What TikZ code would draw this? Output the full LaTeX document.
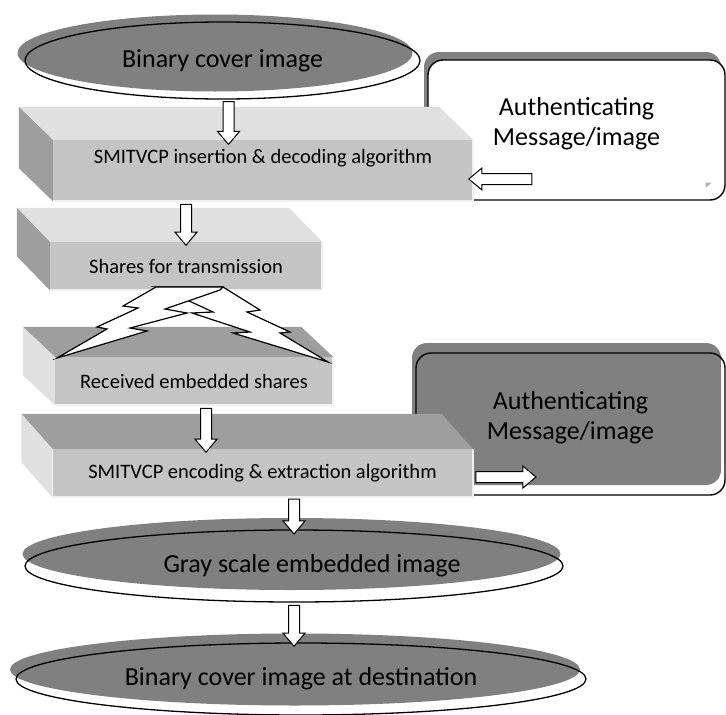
\documentclass[tikz,border=0pt]{standalone}
\usepackage{fontspec}
\setmainfont{Carlito}
\usepackage{tikz}
\usetikzlibrary{arrows.meta, positioning}
\usetikzlibrary{shapes,arrows,shadows}

\definecolor{hatchgray}{RGB}{128,128,128}
\definecolor{frontgray}{RGB}{196,196,196}
\definecolor{lightface}{RGB}{224,224,224}
\definecolor{darkface}{RGB}{158,158,158}

\tikzset{
  oval/.style={draw, ellipse, line width=1.3pt, inner sep=0pt, font=\fontsize{26}{30}\selectfont},
  slab/.style={rectangle, fill=frontgray, inner sep=0pt, font=\fontsize{20.5}{24}\selectfont},
  msgbox/.style={draw, rectangle, rounded corners=15pt, line width=1.4pt, align=center,
    font=\fontsize{26}{30}\selectfont, text height=37pt, text depth=6pt},
  blockarrow/.style={single arrow, draw, fill=white, line width=1pt, inner xsep=0pt, inner ysep=5pt,
    minimum width=21pt, single arrow head extend=5.5pt, single arrow tip angle=80,
    sloped, allow upside down},
  bevel/.style={draw=white!88!gray, line width=2pt},
  bolt/.style={fill=white, draw, line width=1.2pt},
}

\begin{document}
\begin{tikzpicture}[x=1pt, y=-1pt]
  \useasboundingbox (0,0) rectangle (726,715);

  \node[oval, minimum width=395pt, minimum height=77pt,
    drop shadow={shadow xshift=-7.5pt, shadow yshift=7.5pt, fill=hatchgray, opacity=1}]
    (bin) at (222.5,60.5) {Binary cover image};

  \node[msgbox, fill=white, minimum width=297pt, minimum height=140pt,
    drop shadow={shadow xshift=-4pt, shadow yshift=8pt, fill=hatchgray, opacity=1}]
    (auth1) at (576.5,130) {Authenticating\\Message/image};
  \fill[gray!60] ([shift={(-20,-18)}]auth1.south east) -- ++(6,0) -- ++(-6,5) -- cycle;

  \node[msgbox, minimum width=309pt, minimum height=142pt,
    drop shadow={shadow xshift=-4pt, shadow yshift=10pt, fill=hatchgray, opacity=1}]
    (auth2) at (570.5,424) {Authenticating\\Message/image};

  \node[slab, minimum width=420pt, minimum height=61pt, text height=5pt, text depth=20pt]
    (ins) at (263,170.5) {SMITVCP insertion \& decoding algorithm};
  \node[slab, minimum width=272pt, minimum height=48pt] (shr) at (186,266) {Shares for transmission};
  \node[slab, minimum width=278pt, minimum height=48pt] (rcv) at (194,381) {Received embedded shares};
  \node[slab, minimum width=420pt, minimum height=48pt] (enc) at (262.5,473) {SMITVCP encoding \& extraction algorithm};

  \foreach \b/\dx/\dy/\tc/\lc in {ins/-34/-33/lightface/darkface, shr/-33/-34/lightface/darkface,
      rcv/-32/-30/darkface/lightface, enc/-31/-35/darkface/lightface}{
    \fill[\tc] (\b.north west) -- ++(\dx,\dy) -- ([shift={(\dx,\dy)}]\b.north east) -- (\b.north east) -- cycle;
    \fill[\lc] (\b.north west) -- ++(\dx,\dy) -- ([shift={(\dx,\dy)}]\b.south west) -- (\b.south west) -- cycle;
    \draw[bevel] (\b.north east) -- (\b.south east) -- (\b.south west);
  }

  \node[oval, minimum width=538pt, minimum height=72pt,
    drop shadow={shadow xshift=-2.5pt, shadow yshift=12pt, fill=hatchgray, opacity=1}]
    (gray) at (294,566) {\hspace*{36pt}Gray scale embedded image};
  \node[oval, minimum width=570pt, minimum height=72pt,
    drop shadow={shadow xshift=-6pt, shadow yshift=9.5pt, fill=hatchgray, opacity=1}]
    (dest) at (301,679) {Binary cover image at destination};

  \coordinate (a1) at ([xshift=6pt]bin.south);
  \coordinate (a3) at ([xshift=12pt]rcv.south);
  \coordinate (m1) at (534,179);

  \path (a1) -- node[blockarrow, minimum height=43pt] {} (a1 |- ins.north);
  \path (shr.north |- ins.south) -- node[blockarrow, minimum height=41pt] {} (shr.north);
  \path (a3) -- node[blockarrow, minimum height=44pt] {} (a3 |- enc.north);
  \path (gray.north |- enc.south) -- node[blockarrow, minimum height=35pt] {} (gray.north);
  \path (gray.south) -- node[blockarrow, minimum height=41pt] {} (gray.south |- dest.north);
  \path (m1) -- node[blockarrow, minimum height=63pt] {} (m1 -| ins.east);
  \path ([yshift=-4pt]enc.east) -- node[blockarrow, minimum height=60pt] {} ++(60,0);

  \draw[bolt] (223,287) -- (260,310) -- (247,312) -- (290,332) -- (280,333) -- (328,362)
    -- (233,333) -- (250,332) -- (192,313) -- (213,312) -- (187,300) -- (170,290) -- (156,287) -- cycle;
  \draw[bolt] (156,287) -- (123,306) -- (138,308) -- (97,327) -- (107,329) -- (57,358)
    -- (147,331) -- (130,328) -- (187,313) -- (165,309) -- (220,290) -- (223,287) -- cycle;
\end{tikzpicture}
\end{document}
